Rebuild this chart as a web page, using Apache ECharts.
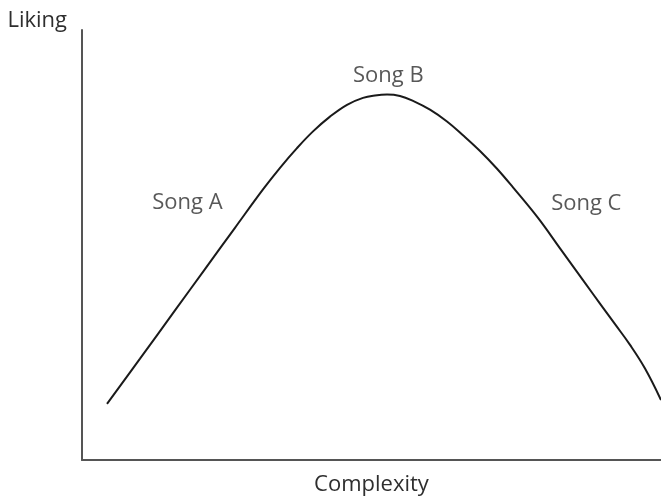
<!DOCTYPE html>
<html>
<head>
<meta charset="utf-8">
<script src="https://cdn.jsdelivr.net/npm/echarts@6/dist/echarts.min.js"></script>
<style>
  html, body { margin: 0; padding: 0; background: #fff; overflow: hidden; }
  #chart { width: 661px; height: 501px; }
</style>
</head>
<body>
<div id="chart"></div>
<script>
// Inverted-U: liking vs. complexity (arbitrary 0–100 units)
const complexity = [4.32, 10.02, 16.06, 21.24, 26.42, 31.26, 34.20, 37.13, 39.90, 42.83, 45.77, 48.53, 50.60, 52.68,
                    54.92, 57.17, 60.10, 63.04, 65.80, 68.74, 71.68, 74.44, 78.76, 82.56, 86.87, 89.46, 92.06, 94.65, 97.24, 100];
const liking     = [13.04, 23.57, 34.78, 44.39, 54.00, 62.93, 67.96, 72.54, 76.43, 79.86, 82.61, 84.21, 84.78, 85.01,
                    84.67, 83.52, 81.46, 78.72, 75.51, 71.85, 67.73, 63.39, 56.29, 49.20, 41.19, 36.38, 31.58, 26.77, 21.28, 13.96];

// Song annotations and where they sit on the plane
const songNames = ['Song A', 'Song B', 'Song C'];
const songX     = [18.2, 52.9, 87.1];
const songY     = [59.8, 89.4, 59.6];

const xName = 'Complexity';
const yName = 'Liking';

const FONT = '"Open Sans", sans-serif';
const TEXT = '#2e2e2e';
const SIZE = 22;

const chart = echarts.init(document.getElementById('chart'), null, { renderer: 'canvas' });

chart.setOption({
  animation: false,
  backgroundColor: '#fff',
  grid: { left: 82, right: 0, top: 30, bottom: 34, containLabel: false },
  xAxis: {
    type: 'value', min: 0, max: 100,
    name: xName, nameLocation: 'middle', nameGap: 25,
    nameTextStyle: { fontFamily: FONT, fontSize: SIZE, color: TEXT, verticalAlign: 'middle' },
    axisLine: { show: true, lineStyle: { color: '#555', width: 2 } },
    axisTick: { show: false }, axisLabel: { show: false }, splitLine: { show: false }
  },
  yAxis: {
    type: 'value', min: 0, max: 100,
    name: yName, nameLocation: 'end', nameGap: 9,
    nameTextStyle: { fontFamily: FONT, fontSize: SIZE, color: TEXT, align: 'right', verticalAlign: 'middle', padding: [0, 15, 0, 0] },
    axisLine: { show: true, lineStyle: { color: '#555', width: 2 } },
    axisTick: { show: false }, axisLabel: { show: false }, splitLine: { show: false }
  },
  series: [
    {
      type: 'line',
      data: complexity.map((x, i) => [x, liking[i]]),
      smooth: 0.4,
      symbol: 'none',
      lineStyle: { color: '#1a1a1a', width: 2 }
    },
    {
      type: 'scatter',
      symbolSize: 0,
      silent: true,
      data: songNames.map((n, i) => ({ name: n, value: [songX[i], songY[i]] })),
      label: {
        show: true, position: 'inside',
        formatter: p => p.name,
        fontFamily: FONT, fontSize: SIZE, color: TEXT
      }
    }
  ]
});
</script>
</body>
</html>
